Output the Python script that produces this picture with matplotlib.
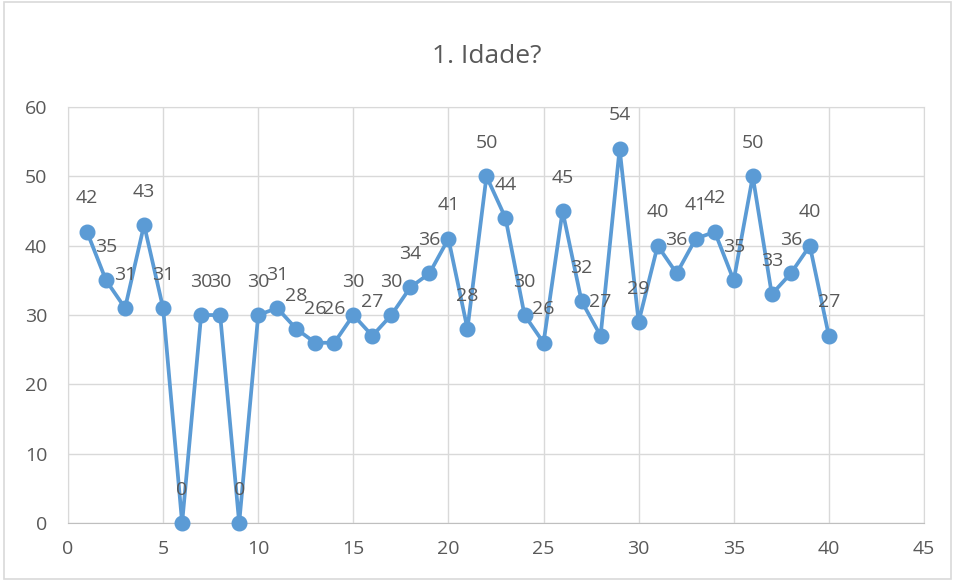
import matplotlib.pyplot as plt
from matplotlib.patches import Rectangle

# respondentes e idades (do rótulo de cada ponto)
respondente = list(range(1, 41))
idade = [42, 35, 31, 43, 31, 0, 30, 30, 0, 30,
         31, 28, 26, 26, 30, 27, 30, 34, 36, 41,
         28, 50, 44, 30, 26, 45, 32, 27, 54, 29,
         40, 36, 41, 42, 35, 50, 33, 36, 40, 27]
x_ticks = [0, 5, 10, 15, 20, 25, 30, 35, 40, 45]
y_ticks = [0, 10, 20, 30, 40, 50, 60]

azul = '#5B9BD5'
cinza = '#595959'
plt.rcParams['font.family'] = ['Open Sans', 'DejaVu Sans']

fig = plt.figure(figsize=(9.55, 5.81), dpi=100, facecolor='w')
fig.patches.append(Rectangle((0.004, 0.004), 0.992, 0.992, transform=fig.transFigure,
                             fill=False, edgecolor='#d9d9d9', lw=1.2))
ax = fig.add_axes([0.0712, 0.0998, 0.8963, 0.716])

ax.plot(respondente, idade, color=azul, lw=2.7, marker='o', ms=10.5,
        clip_on=False, zorder=3)
for xi, yi in zip(respondente, idade):
    ax.annotate(str(yi), (xi, yi), xytext=(0, 24), textcoords='offset points',
                ha='center', va='center', fontsize=14, color=cinza, zorder=4)

ax.set_xlim(0, 45)
ax.set_ylim(0, 60)
ax.set_xticks(x_ticks)
ax.set_yticks(y_ticks)
ax.tick_params(length=0, labelsize=14, labelcolor=cinza)
ax.tick_params(axis='y', pad=15)
ax.tick_params(axis='x', pad=12)
ax.grid(True, color='#d9d9d9', lw=1)
ax.set_axisbelow(True)
for s in ('top', 'right', 'left'):
    ax.spines[s].set_color('#d9d9d9')
ax.spines['bottom'].set_color('#bfbfbf')

fig.text(0.51, 0.902, '1. Idade?', ha='center', va='center', fontsize=19, color=cinza)

fig.savefig('out.png', dpi=100)
